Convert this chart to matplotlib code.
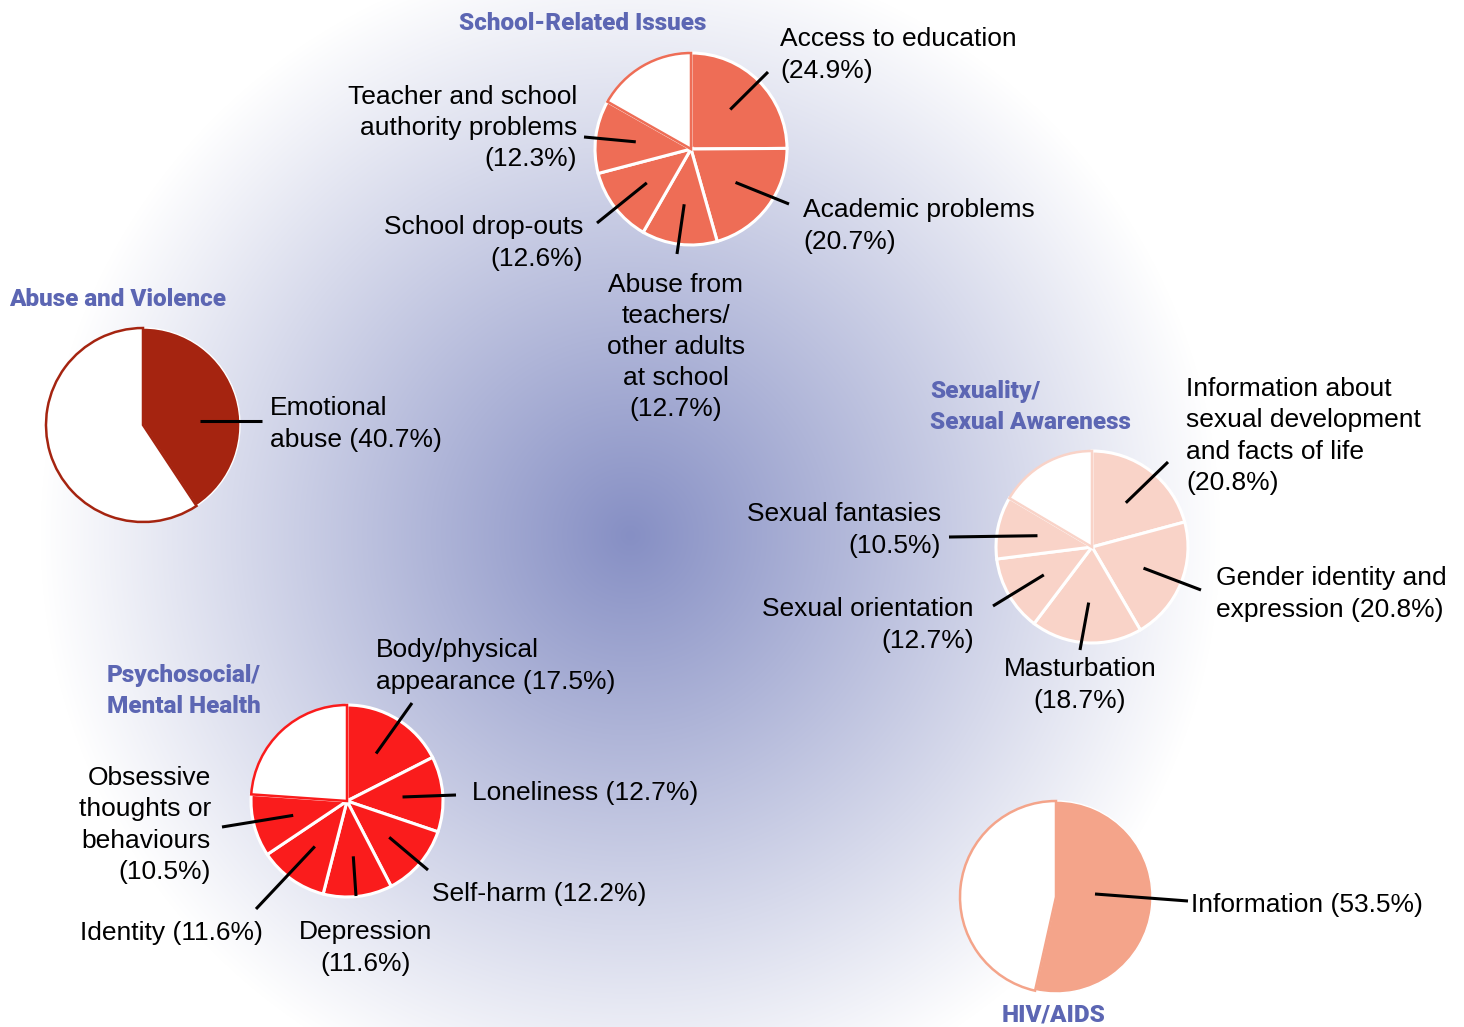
import numpy as np
import matplotlib
matplotlib.use("Agg")
import matplotlib.pyplot as plt
from matplotlib.colors import to_rgb

W, H = 1464, 1027

# ---------------- data ----------------
school_labels = ["Access to education\n(24.9%)", "Academic problems\n(20.7%)",
                 "Abuse from\nteachers/\nother adults\nat school\n(12.7%)",
                 "School drop-outs\n(12.6%)", "Teacher and school\nauthority problems\n(12.3%)"]
school_values = [24.9, 20.7, 12.7, 12.6, 12.3]

abuse_labels = ["Emotional\nabuse (40.7%)"]
abuse_values = [40.7]

sex_labels = ["Information about\nsexual development\nand facts of life\n(20.8%)",
              "Gender identity and\nexpression (20.8%)", "Masturbation\n(18.7%)",
              "Sexual orientation\n(12.7%)", "Sexual fantasies\n(10.5%)"]
sex_values = [20.8, 20.8, 18.7, 12.7, 10.5]

psy_labels = ["Body/physical\nappearance (17.5%)", "Loneliness (12.7%)", "Self-harm (12.2%)",
              "Depression\n(11.6%)", "Identity (11.6%)",
              "Obsessive\nthoughts or\nbehaviours\n(10.5%)"]
psy_values = [17.5, 12.7, 12.2, 11.6, 11.6, 10.5]

hiv_labels = ["Information (53.5%)"]
hiv_values = [53.5]

titles = ["School-Related Issues", "Abuse and Violence", "Sexuality/\nSexual Awareness",
          "Psychosocial/\nMental Health", "HIV/AIDS"]

# ---------------- style / layout ----------------
TITLE_COLOR = "#5c66b3"
LABEL_FONT = ["Liberation Sans", "DejaVu Sans"]
TITLE_FONT = ["Roboto", "DejaVu Sans"]
FS = 19
LS = 1.38
DY = 2  # vertical nudge of text blocks (pixels)

fig = plt.figure(figsize=(W / 100, H / 100), dpi=100)
ax = fig.add_axes([0, 0, 1, 1])

# radial gradient background
yy, xx = np.mgrid[0:H, 0:W]
d = np.hypot(xx - 630, yy - 535)
t = np.clip(d / 590.0, 0, 1)[..., None]
c0 = np.array(to_rgb("#868fc4"))
img = c0 * (1 - t) + np.ones(3) * t
ax.imshow(img, extent=(0, W, 0, H), origin="upper", zorder=0, interpolation="bilinear")


def Y(y):
    return H - y


def draw_pie(values, color, cx, cy, r, labels, leaders, texts, frac=0.58,
             starts=None, sep_lw=2.2):
    rem = 100 - sum(values)
    wedges, _ = ax.pie(values + [rem], colors=[color] * len(values) + ["white"],
                       startangle=90, counterclock=False, center=(cx, Y(cy)), radius=r,
                       wedgeprops=dict(edgecolor="white", linewidth=sep_lw))
    for w in wedges:
        w.set_zorder(2)
    wedges[-1].set_edgecolor(color)
    wedges[-1].set_linewidth(1.8)
    wedges[-1].set_zorder(2.5)
    cum = 0
    for i, (v, lab, end, (tx, ty, ha)) in enumerate(zip(values, labels, leaders, texts)):
        ang = np.deg2rad(90 - 3.6 * (cum + v / 2))
        cum += v
        if starts is not None:
            sx, sy = starts[i][0], Y(starts[i][1])
        else:
            sx, sy = cx + frac * r * np.cos(ang), Y(cy) + frac * r * np.sin(ang)
        ax.plot([sx, end[0]], [sy, Y(end[1])], color="black", lw=2.2,
                solid_capstyle="butt", zorder=4)
        ax.text(tx, Y(ty + DY), lab, ha=ha, va="center", multialignment=ha,
                fontsize=FS, family=LABEL_FONT, color="black", zorder=5,
                linespacing=LS)


# School-related
draw_pie(school_values, "#ee6d56", 691, 149, 96, school_labels,
         [(768, 72), (789, 204), (677, 254), (597, 223), (584, 137)],
         [(780, 53, "left"), (803, 224, "left"), (676, 345, "center"),
          (583, 241, "right"), (577, 126, "right")])

# Abuse and violence
draw_pie(abuse_values, "#a52410", 143, 425, 97, abuse_labels,
         [(262, 421)], [(270, 422, "left")], starts=[(200, 421)], sep_lw=1.0)

# Sexuality
draw_pie(sex_values, "#f9d3c8", 1092, 547, 96, sex_labels,
         [(1168, 462), (1201, 590), (1080, 650), (993, 606), (949, 537)],
         [(1186, 434, "left"), (1216, 592, "left"), (1080, 683, "center"),
          (974, 623, "right"), (941, 528, "right")])

# Psychosocial
draw_pie(psy_values, "#fa1c1c", 347, 801, 96, psy_labels,
         [(412, 703), (456, 795), (428, 870), (356, 896), (256, 909), (222, 827)],
         [(376, 664, "left"), (472, 791, "left"), (432, 892, "left"),
          (366, 946, "center"), (263, 931, "right"), (211, 823, "right")])

# HIV/AIDS
draw_pie(hiv_values, "#f4a48a", 1056, 897, 96, hiv_labels,
         [(1188, 901)], [(1191, 903, "left")], starts=[(1095, 894)], sep_lw=1.0)

# titles
title_pos = [(583, 24, "center"), (9, 300, "left"), (930, 407, "left"),
             (107, 691, "left"), (1054, 1015, "center")]
for txt, (x, y, ha) in zip(titles, title_pos):
    ax.text(x, Y(y), txt, ha=ha, va="center", multialignment=ha, fontsize=17.5,
            fontweight="heavy", family=TITLE_FONT, color=TITLE_COLOR, zorder=5,
            linespacing=1.45)

ax.set_xlim(0, W)
ax.set_ylim(0, H)
ax.set_aspect("equal")
ax.set_axis_off()
fig.savefig("out.png", dpi=100)
